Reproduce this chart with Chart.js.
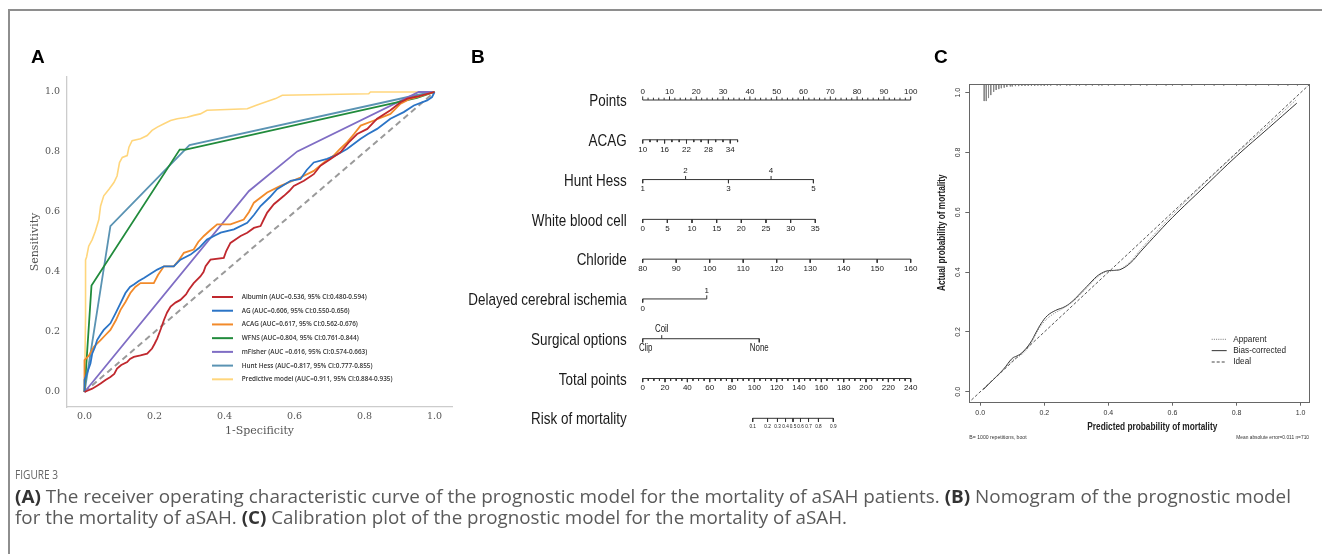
<!DOCTYPE html>
<html><head><meta charset="utf-8">
<script src="https://cdn.jsdelivr.net/npm/chart.js@4.4.1/dist/chart.umd.min.js"></script>
<style>
html,body{margin:0;padding:0;background:#fff;}
body{width:1322px;height:554px;position:relative;overflow:hidden;}
canvas{position:absolute;left:0;top:0;}
#frame{position:absolute;left:8px;top:9px;width:1330px;height:560px;border-top:2px solid #8e8e8e;border-left:2px solid #8e8e8e;}
.pl{position:absolute;font:bold 19px/19px "Liberation Sans",Arial,sans-serif;color:#000;}
.cap{position:absolute;left:15px;font-family:"Open Sans",sans-serif;color:#5a5a5a;white-space:nowrap;transform-origin:0 0;}
.cap b{color:#333;font-weight:700;}
</style></head><body>
<div id="frame"></div>
<canvas id="cA" width="1322" height="554"></canvas>
<canvas id="cB" width="1322" height="554"></canvas>
<canvas id="cC" width="1322" height="554"></canvas>
<div class="pl" style="left:31px;top:47px">A</div>
<div class="pl" style="left:471px;top:47px">B</div>
<div class="pl" style="left:934px;top:47px">C</div>
<div class="cap" id="cap0" data-w="43" style="top:468px;font-size:13px;line-height:13px;color:#666">FIGURE 3</div>
<div class="cap" id="cap1" data-w="1276" style="top:485px;font-size:18.5px;line-height:21px"><b>(A)</b> The receiver operating characteristic curve of the prognostic model for the mortality of aSAH patients. <b>(B)</b> Nomogram of the prognostic model</div>
<div class="cap" id="cap2" data-w="832" style="top:506px;font-size:18.5px;line-height:21px">for the mortality of aSAH. <b>(C)</b> Calibration plot of the prognostic model for the mortality of aSAH.</div>
<script>
// ---------------- Panel A data (ROC) ----------------
const rocTicks = [0, 0.2, 0.4, 0.6, 0.8, 1.0];
const rocLabels = ['Albumin (AUC=0.536, 95% CI:0.480-0.594)','AG (AUC=0.606, 95% CI:0.550-0.656)','ACAG (AUC=0.617, 95% CI:0.562-0.676)','WFNS (AUC=0.804, 95% CI:0.761-0.844)','mFisher (AUC =0.616, 95% CI:0.574-0.663)','Hunt Hess (AUC=0.817, 95% CI:0.777-0.855)','Predictive model (AUC=0.911, 95% CI:0.884-0.935)'];
const rocColors = ['#c0282e','#2b74c6','#f28a2a','#218b3c','#7f6dc4','#5a93b3','#ffd67c'];
const albumin = [[0,0],[0.01,0.005],[0.022,0.011],[0.035,0.02],[0.046,0.028],[0.06,0.04],[0.074,0.05],[0.085,0.06],[0.093,0.078],[0.105,0.09],[0.122,0.1],[0.13,0.11],[0.141,0.117],[0.16,0.122],[0.179,0.128],[0.193,0.145],[0.2,0.16],[0.208,0.179],[0.218,0.21],[0.227,0.24],[0.236,0.265],[0.246,0.285],[0.26,0.298],[0.274,0.307],[0.29,0.325],[0.298,0.341],[0.312,0.363],[0.331,0.385],[0.34,0.4],[0.346,0.419],[0.36,0.441],[0.398,0.447],[0.405,0.47],[0.417,0.497],[0.446,0.52],[0.465,0.531],[0.484,0.547],[0.503,0.553],[0.512,0.575],[0.522,0.598],[0.541,0.626],[0.57,0.654],[0.585,0.67],[0.598,0.687],[0.627,0.704],[0.655,0.726],[0.674,0.754],[0.703,0.777],[0.731,0.799],[0.755,0.832],[0.779,0.86],[0.808,0.877],[0.836,0.911],[0.874,0.939],[0.903,0.966],[0.922,0.978],[0.95,0.985],[1,1]];
const ag = [[0,0],[0,0.04],[0.008,0.065],[0.017,0.095],[0.022,0.128],[0.03,0.15],[0.036,0.173],[0.045,0.19],[0.055,0.207],[0.074,0.229],[0.089,0.263],[0.103,0.296],[0.117,0.33],[0.13,0.35],[0.141,0.358],[0.155,0.37],[0.17,0.38],[0.19,0.395],[0.208,0.408],[0.227,0.419],[0.255,0.419],[0.274,0.441],[0.303,0.458],[0.327,0.48],[0.35,0.508],[0.37,0.52],[0.389,0.531],[0.427,0.542],[0.465,0.564],[0.484,0.59],[0.503,0.62],[0.53,0.65],[0.55,0.676],[0.589,0.704],[0.617,0.71],[0.635,0.74],[0.655,0.765],[0.693,0.777],[0.72,0.79],[0.75,0.81],[0.789,0.844],[0.81,0.86],[0.836,0.877],[0.874,0.911],[0.912,0.933],[0.941,0.955],[0.979,0.972],[0.993,0.983],[1,1]];
const acag = [[0,0],[0,0.106],[0.012,0.12],[0.027,0.151],[0.046,0.173],[0.06,0.19],[0.074,0.207],[0.09,0.24],[0.103,0.274],[0.117,0.3],[0.131,0.33],[0.145,0.35],[0.16,0.363],[0.198,0.363],[0.21,0.39],[0.227,0.419],[0.255,0.419],[0.27,0.44],[0.284,0.464],[0.312,0.475],[0.325,0.5],[0.341,0.52],[0.36,0.54],[0.379,0.559],[0.417,0.559],[0.455,0.575],[0.47,0.6],[0.484,0.631],[0.522,0.665],[0.56,0.687],[0.617,0.715],[0.655,0.737],[0.684,0.765],[0.712,0.788],[0.73,0.81],[0.75,0.832],[0.77,0.86],[0.789,0.888],[0.827,0.905],[0.874,0.927],[0.903,0.961],[0.931,0.978],[0.94,0.98],[1,1]];
const wfns = [[0,0],[0.02,0.355],[0.272,0.808],[0.289,0.808],[0.95,0.98],[1,1]];
const mfisher = [[0,0],[0.47,0.67],[0.608,0.802],[0.955,1.0],[1,1]];
const huntHess = [[0,0],[0.074,0.553],[0.3,0.823],[0.95,0.99],[1,1]];
const predictive = [[0,0],[0.003,0.25],[0.003,0.44],[0.006,0.45],[0.012,0.486],[0.022,0.508],[0.031,0.536],[0.041,0.575],[0.046,0.62],[0.055,0.654],[0.07,0.676],[0.084,0.698],[0.093,0.72],[0.1,0.765],[0.108,0.782],[0.122,0.788],[0.127,0.816],[0.136,0.838],[0.16,0.844],[0.179,0.855],[0.193,0.872],[0.208,0.883],[0.227,0.894],[0.246,0.905],[0.265,0.911],[0.293,0.916],[0.312,0.922],[0.331,0.927],[0.35,0.939],[0.465,0.944],[0.489,0.955],[0.503,0.961],[0.546,0.978],[0.565,0.989],[0.812,0.994],[0.817,1.0],[1,1]];
const rocSeries = [albumin, ag, acag, wfns, mfisher, huntHess, predictive];
const chanceLine = [[0,0],[1,1]];

// ---------------- Panel B data (nomogram) ----------------
const nomoRows = ['Points','ACAG','Hunt Hess','White blood cell','Chloride','Delayed cerebral ischemia','Surgical options','Total points','Risk of mortality'];
const pointsLabels = [0,10,20,30,40,50,60,70,80,90,100];
const acagLabels = [10,16,22,28,34];
const acagRange = [10,36], acagPts = [0,35.4];
const huntHessValues = [1,2,3,4,5];
const huntHessPts = [0,16.0,32.0,47.9,63.7];
const wbcLabels = [0,5,10,15,20,25,30,35];
const wbcRange = [0,35], wbcPts = [0,64.4];
const chlorideLabels = [80,90,100,110,120,130,140,150,160];
const chlorideRange = [80,160], chloridePts = [0,100];
const dciValues = ['0','1'];
const dciPts = [0,23.9];
const surgeryValues = ['Clip','Coil','None'];
const surgeryPts = [0,7.1,43.5];
const totalLabels = [0,20,40,60,80,100,120,140,160,180,200,220,240];
const totalRange = [0,240];
const riskLabels = ['0.1','0.2','0.3','0.4','0.5','0.6','0.7','0.8','0.9'];
const riskTotals = [98.5,111.8,120.7,127.9,134.6,141.3,148.5,157.4,170.7];

// ---------------- Panel C data (calibration) ----------------
const calTicks = [0, 0.2, 0.4, 0.6, 0.8, 1.0];
const apparent = [[0.01,0.01],[0.04,0.04],[0.073,0.074],[0.1,0.105],[0.12,0.118],[0.14,0.135],[0.16,0.165],[0.18,0.205],[0.2,0.235],[0.225,0.258],[0.26,0.28],[0.29,0.302],[0.315,0.328],[0.34,0.356],[0.365,0.383],[0.39,0.4],[0.41,0.404],[0.44,0.412],[0.47,0.437],[0.5,0.475],[0.54,0.523],[0.6,0.592],[0.7,0.697],[0.8,0.797],[0.9,0.892],[0.985,0.975]];
const biasCorrected = [[0.01,0.008],[0.04,0.04],[0.073,0.076],[0.1,0.112],[0.115,0.12],[0.13,0.13],[0.156,0.163],[0.175,0.2],[0.19,0.228],[0.21,0.255],[0.235,0.272],[0.265,0.285],[0.29,0.305],[0.312,0.329],[0.34,0.36],[0.364,0.386],[0.385,0.4],[0.4,0.405],[0.42,0.406],[0.44,0.41],[0.47,0.432],[0.5,0.468],[0.54,0.515],[0.6,0.583],[0.7,0.686],[0.8,0.788],[0.9,0.882],[0.988,0.965]];
const idealLine = [[-0.05,-0.05],[1.05,1.05]];
const rugX = [0.0125,0.019,0.026,0.033,0.042,0.05,0.058,0.066,0.075,0.083,0.094,0.10,0.11,0.12,0.13,0.14,0.15,0.16,0.17,0.18,0.19,0.2,0.21,0.22,0.24,0.25,0.27,0.28,0.3,0.31,0.33,0.35,0.37,0.38,0.4,0.42,0.45,0.47,0.5,0.52,0.55,0.58,0.6,0.63,0.66,0.7,0.73,0.76,0.8,0.83,0.86,0.9,0.93,0.96,0.99];
const rugH = [0.057,0.057,0.047,0.037,0.026,0.02,0.017,0.014,0.012,0.01,0.008,0.008,0.007,0.007,0.006,0.006,0.006,0.006,0.006,0.005,0.005,0.006,0.005,0.005,0.005,0.005,0.005,0.005,0.005,0.005,0.005,0.005,0.005,0.005,0.005,0.005,0.005,0.005,0.005,0.005,0.005,0.005,0.005,0.005,0.005,0.005,0.005,0.005,0.005,0.005,0.005,0.005,0.005,0.005,0.005];

// ---------------- helpers ----------------
const toXY = a => a.map(p => ({x:p[0], y:p[1]}));
function drawScaled(ctx, text, x, y, sx, align){
  ctx.save(); ctx.translate(x,y); ctx.scale(sx,1); ctx.textAlign=align||'left'; ctx.fillText(text,0,0); ctx.restore();
}
const baseOpts = {responsive:false, animation:false, events:[], devicePixelRatio:1};

// caption width fitting
['cap0','cap1','cap2'].forEach(id=>{
  const el = document.getElementById(id);
  const w = el.getBoundingClientRect().width;
  el.style.transform = 'scaleX(' + (parseFloat(el.dataset.w)/w) + ')';
});

// ================= Panel A =================
const legendA = {
  id:'legendA',
  afterDatasetsDraw(chart){
    const ctx = chart.ctx;
    ctx.save();
    ctx.font = '600 7px "Open Sans", sans-serif';
    const sx = 125 / ctx.measureText(rocLabels[0]).width;
    ctx.textBaseline = 'middle';
    rocLabels.forEach((lab,i)=>{
      const y = 297 + i*13.72;
      ctx.strokeStyle = rocColors[i]; ctx.lineWidth = 2;
      ctx.beginPath(); ctx.moveTo(212,y); ctx.lineTo(233,y); ctx.stroke();
      ctx.fillStyle = '#333';
      drawScaled(ctx, lab, 241.7, y, sx, 'left');
    });
    ctx.restore();
  }
};
const dsA = rocSeries.map((s,i)=>({label:rocLabels[i], data:toXY(s), showLine:true, borderColor:rocColors[i], borderWidth:i===6?1.6:1.8, pointRadius:0, fill:false, order:i}));
dsA.push({label:'chance', data:toXY(chanceLine), showLine:true, borderColor:'#9a9a9a', borderWidth:2, borderDash:[6,4], pointRadius:0, order:10});
new Chart(document.getElementById('cA'), {
  type:'scatter',
  data:{datasets:dsA},
  options:Object.assign({}, baseOpts, {
    layout:{padding:{left:25, top:77, right:870, bottom:116}},
    plugins:{legend:{display:false}, tooltip:{enabled:false}},
    scales:{
      x:{type:'linear', min:-0.05, max:1.05,
         afterBuildTicks:s=>{s.ticks = rocTicks.map(v=>({value:v}));},
         afterFit:s=>{s.height = 31;},
         grid:{display:false, drawTicks:false}, border:{display:true, color:'#cccccc', width:1.3},
         ticks:{font:{family:'"DejaVu Serif", serif', size:9.5}, color:'#555', padding:4, maxRotation:0, autoSkip:false, callback:v=>Number(v).toFixed(1)},
         title:{display:true, text:'1-Specificity', font:{family:'"DejaVu Serif", serif', size:11}, color:'#555', padding:{top:0,bottom:0}}},
      y:{type:'linear', min:-0.05, max:1.05,
         afterBuildTicks:s=>{s.ticks = rocTicks.map(v=>({value:v}));},
         afterFit:s=>{s.width = 42;},
         grid:{display:false, drawTicks:false}, border:{display:true, color:'#cccccc', width:1.3},
         ticks:{font:{family:'"DejaVu Serif", serif', size:9.5}, color:'#555', padding:7, autoSkip:false, callback:v=>Number(v).toFixed(1)},
         title:{display:true, text:'Sensitivity', font:{family:'"DejaVu Serif", serif', size:11}, color:'#555', padding:{top:4,bottom:0}}}
    }
  }),
  plugins:[legendA]
});

// ================= Panel B =================
const lin = (v, r, p) => p[0] + (v - r[0]) * (p[1]-p[0]) / (r[1]-r[0]);
const rowsSpec = [];
(function(){
  const t0 = [];
  for (let v=0; v<=100; v+=2) t0.push({p:v, label: pointsLabels.includes(v)?String(v):null, major: pointsLabels.includes(v), up:true});
  rowsSpec.push({ticks:t0, ext:[0,100]});
  const t1 = [];
  for (let v=acagRange[0]; v<=acagRange[1]; v+=2) t1.push({p:lin(v,acagRange,acagPts), label: acagLabels.includes(v)?String(v):null, major: acagLabels.includes(v), up:false});
  rowsSpec.push({ticks:t1, ext:acagPts});
  rowsSpec.push({ticks:huntHessValues.map((v,i)=>({p:huntHessPts[i], label:String(v), major:true, up:(v%2===0)})), ext:[huntHessPts[0], huntHessPts[4]]});
  rowsSpec.push({ticks:wbcLabels.map(v=>({p:lin(v,wbcRange,wbcPts), label:String(v), major:true, up:false})), ext:wbcPts});
  rowsSpec.push({ticks:chlorideLabels.map(v=>({p:lin(v,chlorideRange,chloridePts), label:String(v), major:true, up:false})), ext:chloridePts});
  rowsSpec.push({ticks:dciValues.map((v,i)=>({p:dciPts[i], label:v, major:true, up:i===1})), ext:dciPts});
  rowsSpec.push({ticks:surgeryValues.map((v,i)=>({p:surgeryPts[i], label:v, major:true, up:i===1, word:true})), ext:[surgeryPts[0], surgeryPts[2]]});
  const t7 = [];
  for (let v=0; v<=240; v+=5) t7.push({p:lin(v,totalRange,[0,100]), label: totalLabels.includes(v)?String(v):null, major: totalLabels.includes(v), up:false});
  rowsSpec.push({ticks:t7, ext:[0,100]});
  rowsSpec.push({ticks:riskLabels.map((v,i)=>({p:lin(riskTotals[i],totalRange,[0,100]), label:v, major:true, up:false, tiny:true})), ext:[lin(riskTotals[0],totalRange,[0,100]), lin(riskTotals[8],totalRange,[0,100])]});
})();
const rowPx = 39.79;
const dsB = [];
rowsSpec.forEach((r,i)=>{
  dsB.push({data:[{x:r.ext[0],y:i},{x:r.ext[1],y:i}], showLine:true, borderColor:'#333', borderWidth:1, pointRadius:0, clip:false});
  const seg = [];
  r.ticks.forEach(t=>{
    const len = (t.major?3.6:2.3)/rowPx;
    seg.push({x:t.p,y:i}); seg.push({x:t.p, y: t.up ? i-len : i+len}); seg.push({x:t.p, y:null});
  });
  dsB.push({data:seg, showLine:true, spanGaps:false, borderColor:'#333', borderWidth:1, pointRadius:0, clip:false});
});
const nomoText = {
  id:'nomoText',
  afterDatasetsDraw(chart){
    const ctx = chart.ctx, xs = chart.scales.x, ys = chart.scales.y;
    ctx.save();
    ctx.fillStyle = '#1a1a1a';
    ctx.textBaseline = 'middle';
    ctx.font = '17px "Liberation Sans", Arial, sans-serif';
    const sxName = 158.4 / ctx.measureText(nomoRows[5]).width;
    nomoRows.forEach((n,i)=>{ drawScaled(ctx, n, 626.7, ys.getPixelForValue(i)+1.5, sxName, 'right'); });
    rowsSpec.forEach((r,i)=>{
      const yRow = ys.getPixelForValue(i);
      r.ticks.forEach(t=>{
        if (!t.label) return;
        const x = xs.getPixelForValue(t.p);
        if (t.word){
          ctx.font = '10px "Liberation Sans", Arial, sans-serif';
          drawScaled(ctx, t.label, x + (t.p===0?3:0), t.up ? yRow-9 : yRow+10, sxName, 'center');
        } else if (t.tiny){
          ctx.font = '6px "Liberation Sans", Arial, sans-serif';
          drawScaled(ctx, t.label, x, yRow+8.4, 0.78, 'center');
        } else {
          ctx.font = '8px "Liberation Sans", Arial, sans-serif';
          ctx.textAlign = 'center';
          ctx.fillText(t.label, x, t.up ? yRow-8.6 : yRow+9.6);
        }
      });
    });
    ctx.restore();
  }
};
new Chart(document.getElementById('cB'), {
  type:'scatter',
  data:{datasets:dsB},
  options:Object.assign({}, baseOpts, {
    layout:{padding:{left:642.7, right:411.3, top:100, bottom:135.7}},
    plugins:{legend:{display:false}, tooltip:{enabled:false}},
    scales:{x:{type:'linear', min:0, max:100, display:false}, y:{type:'linear', min:0, max:8, reverse:true, display:false}}
  }),
  plugins:[nomoText]
});

// ================= Panel C =================
const rugSeg = [];
rugX.forEach((x,i)=>{ rugSeg.push({x:x, y:1.029}); rugSeg.push({x:x, y:1.029-rugH[i]}); rugSeg.push({x:x, y:null}); });
const calText = {
  id:'calText',
  afterDraw(chart){
    const ctx = chart.ctx, a = chart.chartArea, ys = chart.scales.y;
    ctx.save();
    ctx.strokeStyle = '#666'; ctx.lineWidth = 1;
    ctx.strokeRect(Math.round(a.left)+0.5, Math.round(a.top)+0.5, Math.round(a.right-a.left), Math.round(a.bottom-a.top));
    ctx.fillStyle = '#333';
    ctx.font = '7px "Liberation Sans", Arial, sans-serif';
    ctx.textBaseline = 'middle'; ctx.textAlign = 'center';
    calTicks.forEach(v=>{
      const y = ys.getPixelForValue(v);
      ctx.save(); ctx.translate(957.7, y); ctx.rotate(-Math.PI/2); ctx.fillText(v.toFixed(1), 0, 0); ctx.restore();
    });
    ctx.fillStyle = '#222';
    ctx.font = 'bold 10px "Liberation Sans", Arial, sans-serif';
    const t1 = 'Predicted probability of mortality', t2 = 'Actual probability of mortality';
    drawScaled(ctx, t1, 1152.3, 427.7, 130/ctx.measureText(t1).width, 'center');
    ctx.save(); ctx.translate(942.7, 232.7); ctx.rotate(-Math.PI/2);
    drawScaled(ctx, t2, 0, 0, 116.7/ctx.measureText(t2).width, 'center'); ctx.restore();
    ctx.font = '5px "Liberation Sans", Arial, sans-serif';
    ctx.fillStyle = '#333';
    const f1 = 'B= 1000 repetitions, boot', f2 = 'Mean absolute error=0.011 n=710';
    drawScaled(ctx, f1, 969.3, 437.7, 57.3/ctx.measureText(f1).width, 'left');
    drawScaled(ctx, f2, 1309, 437.7, 72.7/ctx.measureText(f2).width, 'right');
    ctx.font = '9px "Liberation Sans", Arial, sans-serif';
    ctx.fillStyle = '#222';
    const leg = ['Apparent','Bias-corrected','Ideal'];
    const sxl = 52.7/ctx.measureText(leg[1]).width;
    const dashes = [[1,1.2],[],[3,2]];
    const cols = ['#777','#333','#444'];
    leg.forEach((l,i)=>{
      const y = 339.3 + i*11.35;
      ctx.strokeStyle = cols[i]; ctx.lineWidth = 1; ctx.setLineDash(dashes[i]);
      ctx.beginPath(); ctx.moveTo(1211.7,y); ctx.lineTo(1226.7,y); ctx.stroke();
      ctx.setLineDash([]);
      drawScaled(ctx, l, 1233.3, y, sxl, 'left');
    });
    ctx.restore();
  }
};
new Chart(document.getElementById('cC'), {
  type:'scatter',
  data:{datasets:[
    {label:'Ideal', data:toXY(idealLine), showLine:true, borderColor:'#444', borderWidth:0.9, borderDash:[3,2], pointRadius:0},
    {label:'Apparent', data:toXY(apparent), showLine:true, borderColor:'#8a8a8a', borderWidth:1, borderDash:[1,1.2], pointRadius:0, tension:0.4},
    {label:'Bias-corrected', data:toXY(biasCorrected), showLine:true, borderColor:'#333', borderWidth:1, pointRadius:0, tension:0.4},
    {label:'rug', data:rugSeg, showLine:true, spanGaps:false, borderColor:'#888', borderWidth:1, pointRadius:0, clip:false}
  ]},
  options:Object.assign({}, baseOpts, {
    layout:{padding:{left:949.3, top:84, right:12.7, bottom:112.3}},
    plugins:{legend:{display:false}, tooltip:{enabled:false}},
    scales:{
      x:{type:'linear', min:-0.034, max:1.027,
         afterBuildTicks:s=>{s.ticks = calTicks.map(v=>({value:v}));},
         afterFit:s=>{s.height = 40;},
         grid:{display:true, drawOnChartArea:false, drawTicks:true, tickLength:4, color:'#666'}, border:{display:false},
         ticks:{font:{family:'"Liberation Sans", Arial, sans-serif', size:7}, color:'#333', padding:3, maxRotation:0, autoSkip:false, callback:v=>Number(v).toFixed(1)}},
      y:{type:'linear', min:-0.033, max:1.029,
         afterBuildTicks:s=>{s.ticks = calTicks.map(v=>({value:v}));},
         afterFit:s=>{s.width = 20;},
         grid:{display:true, drawOnChartArea:false, drawTicks:true, tickLength:4, color:'#666'}, border:{display:false},
         ticks:{display:false}}
    }
  }),
  plugins:[calText]
});
</script>
</body></html>
